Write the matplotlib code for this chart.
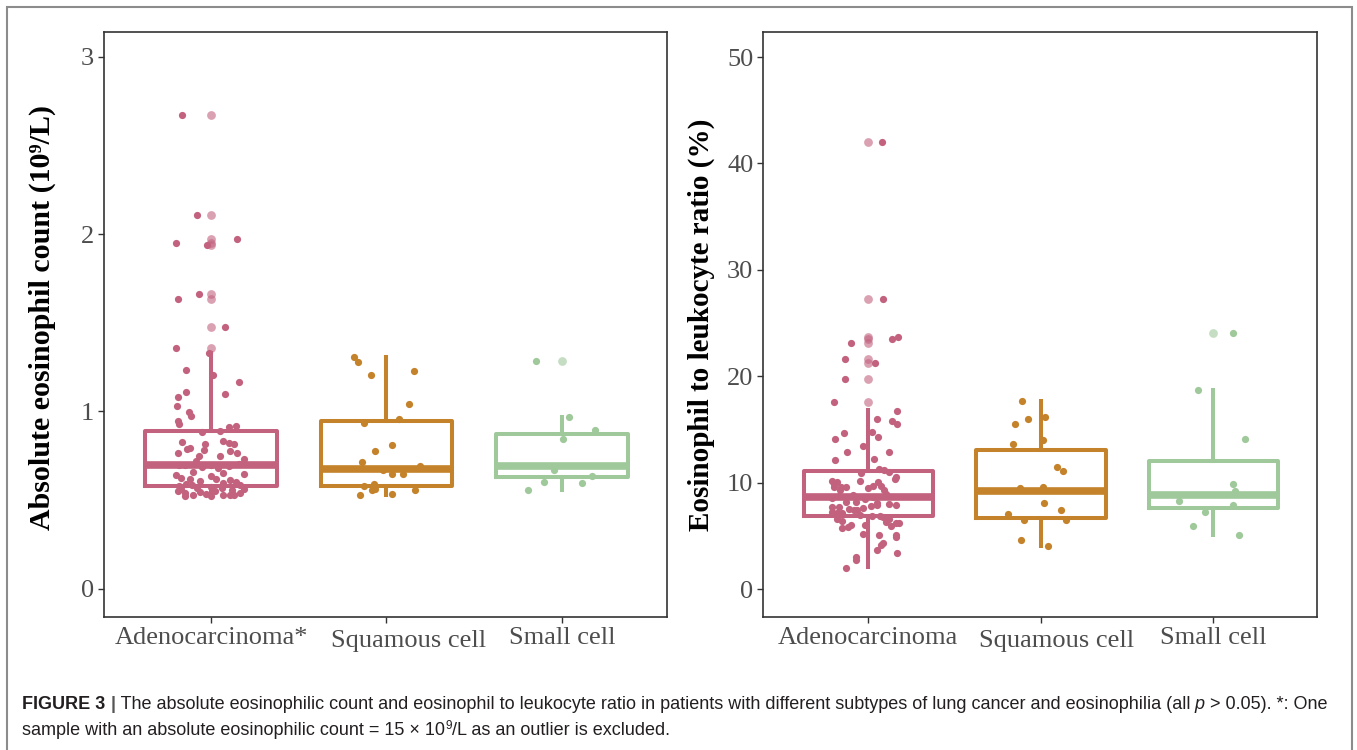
import matplotlib
matplotlib.use("Agg")
import matplotlib.pyplot as plt
from matplotlib.patches import Rectangle
from matplotlib.transforms import ScaledTranslation
import numpy as np

W, H = 1357, 750

groups = ["Adenocarcinoma", "Squamous cell", "Small cell"]
colors = ["#C2627F", "#C4832B", "#9FC99B"]

# ---- absolute eosinophil count (10^9/L): values and jitter offsets ----
adeno_count = [2.67, 2.11, 1.975, 1.95, 1.94, 1.66, 1.635, 1.475, 1.36,
               1.33, 1.235, 1.207, 1.166, 1.107, 1.081, 1.098, 1.032, 0.994, 0.976,
               0.948, 0.93, 0.912, 0.919, 0.89, 0.885,
               0.829, 0.788, 0.791, 0.765, 0.818, 0.784, 0.75, 0.833, 0.822, 0.816,
               0.774, 0.765, 0.746, 0.731, 0.718,
               0.70, 0.695, 0.70, 0.69, 0.705, 0.685, 0.68,
               0.624, 0.619, 0.637, 0.62, 0.615, 0.649, 0.605, 0.583, 0.577, 0.587,
               0.60, 0.66, 0.655, 0.64,
               0.549, 0.54, 0.53, 0.543, 0.525, 0.526, 0.526, 0.54, 0.549, 0.56,
               0.555, 0.57, 0.565, 0.535, 0.52, 0.53, 0.56, 0.575, 0.59, 0.595]
adeno_count_jit = [-0.165, -0.08, 0.15, -0.2, -0.025, -0.066, -0.186, 0.08, -0.2,
                   -0.01, -0.144, 0.013, 0.16, -0.142, -0.186, 0.08, -0.195, -0.123, -0.114,
                   -0.19, -0.185, 0.104, 0.142, 0.05, -0.05,
                   -0.167, -0.138, -0.12, -0.19, -0.034, -0.04, -0.07, 0.066, 0.1, 0.13,
                   0.108, 0.149, 0.05, 0.19, -0.083,
                   -0.18, -0.15, 0.0, 0.1, 0.16, -0.05, 0.04,
                   -0.17, -0.12, 0.0, 0.03, 0.108, 0.19, -0.065, -0.11, -0.18, 0.165,
                   0.145, -0.1, 0.07, -0.2,
                   -0.186, -0.148, -0.102, -0.063, 0.0, 0.071, 0.108, 0.165, 0.023, -0.17,
                   0.12, -0.08, 0.06, -0.03, -0.15, 0.13, 0.19, 0.0, -0.14, 0.07]
squam_count = [1.307, 1.276, 1.207, 1.226, 1.043, 0.959, 0.934, 0.812, 0.774, 0.716,
               0.69, 0.649, 0.649, 0.581, 0.59, 0.564, 0.554, 0.526, 0.536, 0.558, 0.67]
squam_count_jit = [-0.186, -0.163, -0.09, 0.155, 0.13, 0.07, -0.13, 0.032, -0.063, -0.138,
                   0.19, 0.032, 0.093, -0.125, -0.07, -0.063, -0.08, -0.15, 0.032, 0.165, -0.02]
small_count = [1.282, 0.966, 0.897, 0.844, 0.671, 0.637, 0.602, 0.596, 0.558]
small_count_jit = [-0.146, 0.044, 0.19, 0.008, -0.045, 0.17, -0.1, 0.115, -0.19]

# box statistics: (whislo, q1, med, q3, whishi)
count_stats = [(0.53, 0.58, 0.70, 0.89, 1.33),
               (0.526, 0.577, 0.675, 0.948, 1.307),
               (0.558, 0.63, 0.69, 0.87, 0.966)]

# ---- eosinophil to leukocyte ratio (%) ----
adeno_ratio = [42.0, 27.3, 23.7, 23.5, 23.1, 21.6, 21.3, 19.8, 17.55,
               16.73, 16.04, 15.82, 15.57, 14.69, 14.16, 14.78, 14.31, 13.44, 12.9,
               12.9, 12.12, 12.22, 11.34, 11.18, 10.93, 10.55, 10.34, 10.15, 10.08,
               10.18, 10.08, 9.59, 9.59, 9.59, 9.56, 9.68, 9.68, 9.3, 9.3,
               8.9, 8.93, 8.58, 8.46, 8.2, 8.2, 8.11, 7.89, 7.7, 7.7,
               7.6, 7.8, 7.9, 7.55, 7.45, 7.45, 7.23, 7.15, 7.15, 6.98,
               6.9, 6.85, 6.8, 6.6, 6.4, 6.6, 6.3, 6.23, 6.23, 5.73,
               5.86, 6.0, 6.0, 5.92, 5.23, 5.07, 5.07, 4.92, 4.36, 4.14,
               3.67, 3.41, 3.04, 2.73, 2.0, 8.7, 8.75, 11.0, 9.9, 8.0]
adeno_ratio_jit = [0.08, 0.086, 0.17, 0.136, -0.1, -0.134, 0.037, -0.134, -0.2,
                   0.167, 0.048, 0.136, 0.167, -0.14, -0.19, 0.02, 0.054, -0.03, -0.124,
                   0.122, -0.19, 0.035, 0.064, 0.093, -0.043, 0.16, 0.156, -0.21, -0.18,
                   -0.047, 0.054, -0.2, -0.16, -0.13, 0.0, 0.025, 0.074, -0.163, 0.09,
                   -0.09, 0.1, -0.21, -0.02, -0.13, -0.07, 0.048, 0.16, -0.21, -0.17,
                   -0.03, 0.013, 0.05, -0.11, -0.085, -0.065, -0.21, -0.18, -0.15, -0.047,
                   0.02, 0.07, 0.085, -0.18, -0.15, 0.12, 0.1, 0.16, 0.18, -0.15,
                   -0.12, -0.1, -0.02, 0.13, -0.03, 0.064, 0.16, 0.16, 0.083, 0.075,
                   0.048, 0.167, -0.07, -0.07, -0.13, 0.03, -0.17, 0.12, -0.2, 0.12]
squam_ratio = [17.67, 15.57, 16.04, 16.14, 14.07, 13.69, 11.5, 11.12, 9.52, 9.62,
               8.11, 7.42, 7.11, 6.55, 6.55, 4.6, 4.04]
squam_ratio_jit = [-0.107, -0.15, -0.072, 0.025, 0.01, -0.16, 0.093, 0.127, -0.12, 0.01,
                   0.016, 0.116, -0.19, -0.1, 0.146, -0.113, 0.04]
small_ratio = [24.03, 18.7, 14.16, 9.93, 9.21, 8.3, 7.9, 7.27, 5.99, 5.08]
small_ratio_jit = [0.115, -0.09, 0.18, 0.115, 0.124, -0.2, 0.115, -0.05, -0.12, 0.148]

ratio_stats = [(2.1, 6.86, 8.68, 11.09, 16.8),
               (4.04, 6.74, 9.24, 13.13, 17.67),
               (5.08, 7.64, 8.9, 12.06, 18.7)]

count_labels = ["Adenocarcinoma*", "Squamous cell", "Small cell"]
ratio_labels = ["Adenocarcinoma", "Squamous cell", "Small cell"]

serif = ["Liberation Serif", "DejaVu Serif"]
sans = ["Liberation Sans", "DejaVu Sans"]

fig = plt.figure(figsize=(W / 100, H / 100), dpi=100)
ax1 = fig.add_axes([104 / W, 133 / H, 563 / W, 585 / H])
ax2 = fig.add_axes([763 / W, 133 / H, 554 / W, 585 / H])


def draw_panel(ax, vals_list, jit_list, stats, labels, ylim, yticks, shift):
    for i, (vals, jit, st, col) in enumerate(zip(vals_list, jit_list, stats, colors)):
        lo, q1, med, q3, hi = st
        ax.bxp([dict(whislo=lo, q1=q1, med=med, q3=q3, whishi=hi, fliers=[])],
               positions=[i], widths=0.75, showcaps=False, showfliers=False,
               boxprops=dict(color=col, lw=2.9),
               whiskerprops=dict(color=col, lw=2.9),
               medianprops=dict(color=col, lw=5.5, solid_capstyle="butt"))
        vals = np.array(vals)
        ax.scatter(i + np.array(jit), vals, s=27, color=col, lw=0, zorder=3)
        out = vals[vals > hi]
        ax.scatter(np.full(len(out), i), out, s=40, color=col, alpha=0.6,
                   lw=0, zorder=4)
    ax.set_xlim(-0.61, 2.6)
    ax.set_ylim(*ylim)
    ax.set_yticks(yticks)
    ax.set_xticks(range(3))
    ax.set_xticklabels(labels, family=serif)
    ax.set_yticklabels([str(t) for t in yticks], family=serif)
    ax.tick_params(direction="out", length=4, width=1, color="#333333",
                   labelsize=19, labelcolor="#4D4D4D", pad=3)
    for sp in ax.spines.values():
        sp.set_color("#333333")
        sp.set_linewidth(1.2)
    # the middle label sits a little right and lower in the original
    lab = ax.get_xticklabels()[1]
    lab.set_transform(lab.get_transform() +
                      ScaledTranslation(shift / 100, -3 / 100, fig.dpi_scale_trans))


draw_panel(ax1, [adeno_count, squam_count, small_count],
           [adeno_count_jit, squam_count_jit, small_count_jit],
           count_stats, count_labels, (-0.16, 3.14), [0, 1, 2, 3], 22)
draw_panel(ax2, [adeno_ratio, squam_ratio, small_ratio],
           [adeno_ratio_jit, squam_ratio_jit, small_ratio_jit],
           ratio_stats, ratio_labels, (-2.6, 52.35), [0, 10, 20, 30, 40, 50], 16)

fig.text(42 / W, 1 - 318 / H, "Absolute eosinophil count (10\u2079/L)", rotation=90,
         ha="center", va="center", fontsize=21.6, fontweight="bold", family=serif)
fig.text(701 / W, 1 - 325 / H, "Eosinophil to leukocyte ratio (%)", rotation=90,
         ha="center", va="center", fontsize=21, fontweight="bold", family=serif)

# outer frame (bottom edge runs off the page)
fig.patches.append(Rectangle((7 / W, -0.05), (1352 - 7) / W, (H - 7) / H + 0.05,
                             transform=fig.transFigure, fill=False,
                             ec="#8C8C8C", lw=1.5, clip_on=False))

# caption, written as runs of differently styled text
renderer = fig.canvas.get_renderer()


def text_runs(x, y, runs, size=13):
    for s, kw in runs:
        kw = dict(kw)
        fs = kw.pop("size", size)
        dy = kw.pop("dy", 0)
        kw.setdefault("color", "#231F20")
        t = fig.text(x / W, 1 - (y - dy) / H, s, ha="left", va="baseline",
                     fontsize=fs, family=sans, **kw)
        x += t.get_window_extent(renderer).width


text_runs(22.5, 709, [
    ("FIGURE 3", dict(fontweight="bold")),
    (" |", dict(fontweight="bold", color="#555555")),
    (" The absolute eosinophilic count and eosinophil to leukocyte ratio in patients"
     " with different subtypes of lung cancer and eosinophilia (all", {}),
    (" p", dict(style="italic")),
    (" > 0.05). *: One", {}),
])
text_runs(22.5, 735, [
    ("sample with an absolute eosinophilic count = 15 \u00d7 10", {}),
    ("9", dict(size=8.5, dy=6)),
    ("/L as an outlier is excluded.", {}),
])
fig.savefig("out.png", dpi=100)
